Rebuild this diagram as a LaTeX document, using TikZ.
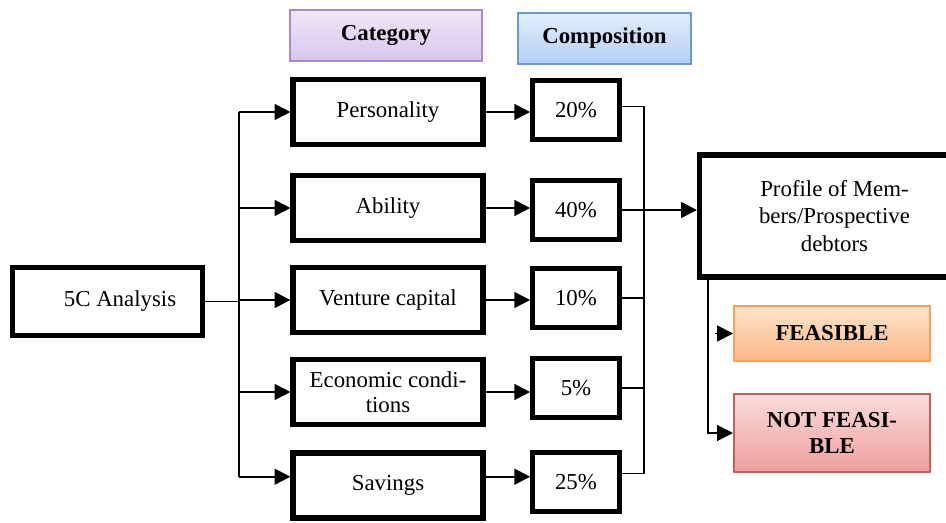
\documentclass[tikz,border=0pt]{standalone}
\usepackage{fontspec}
\setmainfont{Liberation Serif}
\usetikzlibrary{arrows.meta}

\definecolor{catline}{HTML}{A98ACB}
\definecolor{cattop}{HTML}{F0E8F8}
\definecolor{catbot}{HTML}{D8C5EC}
\definecolor{compline}{HTML}{6A9AD6}
\definecolor{comptop}{HTML}{E2EDFC}
\definecolor{compbot}{HTML}{B4D0F5}
\definecolor{feasline}{HTML}{F5A258}
\definecolor{feastop}{HTML}{FDE5CE}
\definecolor{feasbot}{HTML}{F9B784}
\definecolor{nfline}{HTML}{C65F5B}
\definecolor{nftop}{HTML}{FBDCDC}
\definecolor{nfbot}{HTML}{EF9E9E}

\begin{document}
\begin{tikzpicture}[x=0.02cm, y=-0.02cm,
    txt/.style={font=\fontsize{13}{14.5}\selectfont, align=center, inner sep=1pt},
    box/.style={txt, draw=black, line width=3pt},
    catbox/.style={box, minimum width=3.8cm, minimum height=1.3cm},
    pctbox/.style={box, minimum width=1.73cm, minimum height=1.19cm},
    head/.style={txt, draw, line width=0.9pt, minimum height=1.03cm, font=\fontsize{13}{14.5}\selectfont\bfseries},
    verdict/.style={head, minimum width=3.93cm},
    arr/.style={line width=1.2pt, -{Triangle[length=9pt, width=9pt]}},
    bus/.style={line width=0.8pt}]

    \clip (0,0) rectangle (946,523);

    % column headers
    \node[head, draw=catline, top color=cattop, bottom color=catbot, minimum width=3.85cm] (cathead) at (386,35.5) {Category};
    \node[head, draw=compline, top color=comptop, bottom color=compbot, minimum width=3.47cm] (comphead) at (604.5,38.5) {Composition};

    % start box
    \node[box, minimum width=3.79cm, minimum height=1.35cm] (fivec) at (107.5,301.5) {\hspace{1.1em}5C Analysis};

    % categories
    \node[catbox] (pers) at (388,112) {Personality};
    \node[catbox] (abil) at (388,208) {Ability};
    \node[catbox] (vent) at (388,300) {Venture capital};
    \node[catbox] (econ) at (388,392) {Economic condi-\\tions};
    \node[catbox] (sav)  at (388,485.5) {Savings};

    % weights
    \node[pctbox] (p20) at (576,110) {20\%};
    \node[pctbox] (p40) at (576,210) {40\%};
    \node[pctbox] (p10) at (576,298) {10\%};
    \node[pctbox] (p5)  at (576,388) {5\%};
    \node[pctbox] (p25) at (576,482) {25\%};

    % result
    \node[box, minimum width=5.4cm, minimum height=2.44cm, font=\fontsize{13}{15.5}\selectfont] (prof) at (834.5,216) {Profile of Mem-\\bers/Prospective\\debtors};

    \node[verdict, draw=feasline, top color=feastop, bottom color=feasbot, minimum height=1.11cm] (feas) at (832,333.5) {FEASIBLE};
    \node[verdict, draw=nfline, top color=nftop, bottom color=nfbot, minimum height=1.57cm] (nfeas) at (832,433) {NOT FEASI-\\BLE};

    \coordinate (lbus) at (239,0);
    \coordinate (rbus) at (644,0);
    \coordinate (fbus) at (708,0);
    \coordinate (fstart) at (715,0);

    % left fan out
    \draw[line width=0.9pt] (fivec.east) -- (fivec.east -| lbus);
    \draw[line width=1.1pt] (pers.west -| lbus) -- ([yshift=5pt]sav.west -| lbus);
    \foreach \n in {pers,abil,vent,econ}
        \draw[arr] (\n.west -| lbus) -- (\n.west);
    \draw[arr] ([yshift=5pt]sav.west -| lbus) -- ([yshift=5pt]sav.west);

    % category to weight
    \draw[arr] (pers.east) -- (pers.east -| p20.west);
    \draw[arr] (abil.east) -- (abil.east -| p40.west);
    \draw[arr] (vent.east) -- (vent.east -| p10.west);
    \draw[arr] (econ.east) -- (econ.east -| p5.west);
    \draw[arr] ([yshift=5pt]sav.east) -- ([yshift=5pt]sav.east -| p25.west);

    % right collector
    \draw[bus] ([yshift=2pt]p20.east) -- ([yshift=2pt]p20.east -| rbus) -- ([yshift=5pt]p25.east -| rbus) -- ([yshift=5pt]p25.east);
    \foreach \n in {p10,p5}
        \draw[bus] (\n.east) -- (\n.east -| rbus);
    \draw[arr] (p40.east) -- (p40.east -| prof.west);

    % decision
    \draw[arr, line width=1.1pt] (prof.south -| fbus) |- (nfeas.west);
    \draw[arr, line width=1.1pt] (fstart |- feas.west) -- (feas.west);

\end{tikzpicture}
\end{document}
